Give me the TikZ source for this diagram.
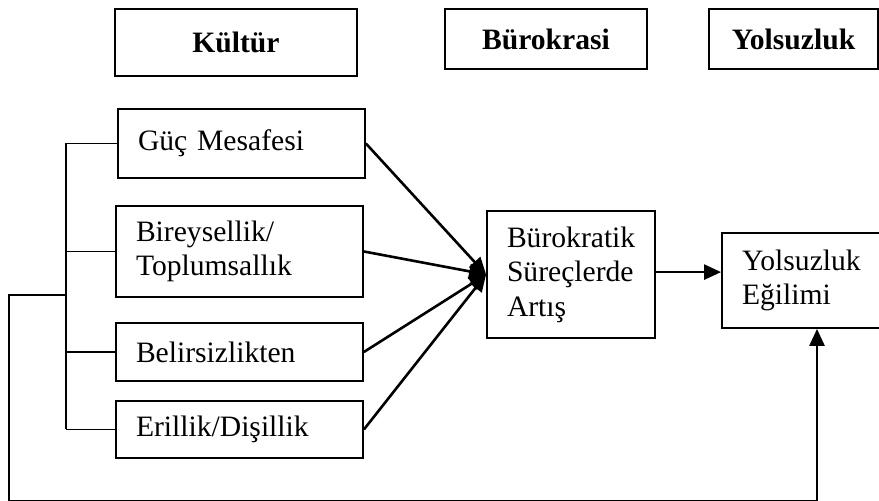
\documentclass[tikz,border=0pt]{standalone}
\usepackage{fontspec}
\setmainfont{Liberation Serif}
\usetikzlibrary{arrows.meta}

\begin{document}
\begin{tikzpicture}
  [
    x=0.5pt, y=-0.5pt,
    every node/.style = {font=\fontsize{14.8}{17.2}\selectfont},
    baslik/.style     = {draw, line width=1.2pt, font=\fontsize{14.8}{17.2}\selectfont\bfseries},
    kutu/.style       = {draw, line width=0.9pt, align=left, inner xsep=10pt, inner ysep=2pt},
    ok/.style         = {line width=1.3pt, -{Triangle[length=8.5pt,width=7.5pt]}},
    hat/.style        = {line width=0.8pt}
  ]
 \useasboundingbox (0,0) rectangle (879,501);
 \clip (0,0) rectangle (879,501);
 % basliklar
 \node [baslik, minimum width=121pt, minimum height=33.5pt] (kultur) at (236,42.5) {Kültür};
 \node [baslik, minimum width=101pt, minimum height=30pt] (burokrasi) at (546,39) {Bürokrasi};
 \node [baslik, minimum width=84.5pt, minimum height=30pt] (yolsuzluk) at (793.5,39) {Yolsuzluk};
 % kultur boyutlari
 \node [kutu, text width=103.5pt, minimum height=34.5pt] (guc) at (241.5,143.5) {Güç Mesafesi};
 \node [kutu, text width=103.5pt, minimum height=45.5pt] (birey) at (239.5,251.5) {Bireysellik/\\Toplumsallık};
 \node [kutu, text width=103.5pt, minimum height=29pt] (belir) at (239.5,352) {Belirsizlikten};
 \node [kutu, text width=103.5pt, minimum height=28.5pt] (eril) at (239.5,429.5) {Erillik/Dişillik};
 \node [kutu, text width=64pt, minimum height=63.5pt] (bur) at (571,274.5) {Bürokratik\\Süreçlerde\\Artış};
 \node [kutu, text width=75pt, minimum height=47.5pt] (yols) at (817,280.5) {Yolsuzluk\\Eğilimi};
 % baglantilar
 \coordinate (bus) at (66,0);
 \coordinate (dis) at (9,295);
 \coordinate (alt) at (9,501.5);
 \draw [hat] (guc.west -| bus) -- (eril.west -| bus);
 \foreach \k in {guc,birey,belir,eril}
   \draw [hat] (\k.west) -- (\k.west -| bus);
 \draw [hat] (dis -| bus) -- (dis) -- (alt);
 \draw [ok] (alt) -| (yols.south);
 \foreach \k in {guc,birey,belir,eril}
   \draw [ok] (\k.east) -- (bur.west);
 \draw [ok] ([yshift=1.2pt]bur.east) -- ([yshift=1.2pt]bur.east -| yols.west);
\end{tikzpicture}
\end{document}
